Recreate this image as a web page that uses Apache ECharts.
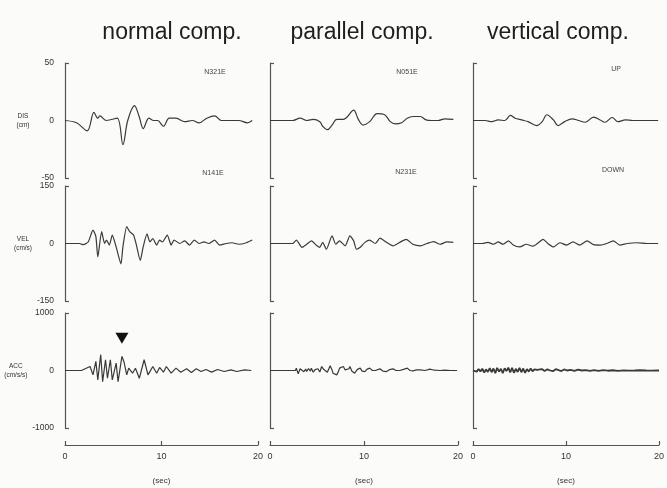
<!DOCTYPE html>
<html>
<head>
<meta charset="utf-8">
<script src="https://cdn.jsdelivr.net/npm/echarts@6/dist/echarts.min.js"></script>
<style>
  html, body { margin: 0; padding: 0; background: #fbfbfa; }
  #chart { width: 667px; height: 488px; }
</style>
</head>
<body>
<div id="chart"></div>
<script>
// labels
const columnTitles = ["normal comp.", "parallel comp.", "vertical comp."];
const rowNames = ["DIS\n(cm)", "VEL\n(cm/s)", "ACC\n(cm/s/s)"];
const rowLimits = [50, 150, 1000];
const upLabels = ["N321E", "N051E", "UP"];
const downLabels = ["N141E", "N231E", "DOWN"];
const timeTicks = [0, 10, 20];

// traces, [sec, value]
const disNormal = [[0,0],[1.2,-2],[2.3,-9],[3.0,7],[3.4,2],[3.6,4],[4.3,0],[5.4,2],[6.0,-21],[6.5,0],[7.2,13],[7.7,3],[8.1,-7],[8.7,2],[9.2,0],[9.6,0],[10.2,-5],[10.8,2],[11.5,2],[12.4,-1],[13.2,0],[13.9,-2],[14.7,2],[15.5,4],[16.2,0],[17.0,0],[18.0,0],[18.9,-2],[19.4,0]];
const disParallel = [[0,0],[2.4,0],[3.2,2],[3.9,0],[4.6,1],[5.3,-1],[5.6,-5],[6.1,-8],[6.6,-4],[7.1,1],[7.8,1],[8.2,3],[8.9,9],[9.4,1],[9.9,-4],[10.6,-1],[11.4,6],[12.2,5],[12.8,-1],[13.3,-3],[14.0,-2],[14.6,2],[15.2,3.5],[16.0,3.5],[16.6,0.5],[17.2,0],[17.9,0],[18.6,1.5],[19.5,1]];
const disVertical = [[0,0],[1.3,0],[2.0,-1],[2.7,0.5],[3.4,0],[4.0,4.4],[4.5,2],[5.2,0.5],[5.9,-1],[6.8,-4.4],[7.4,-1],[7.9,5],[8.6,0.5],[9.1,-4.4],[9.8,-1],[10.6,1.5],[11.3,0],[12.0,-1.5],[12.9,3],[13.6,0.5],[14.1,-1.5],[14.9,2.6],[15.5,-1],[16.3,0.5],[17.1,0],[18.6,0],[19.8,0]];

const velNormal = [[0,0],[1.5,0],[1.9,-3],[2.4,4],[2.9,35],[3.2,18],[3.4,-35],[3.8,31],[4.1,0],[4.3,9],[4.6,-4],[4.9,22],[5.3,-9],[5.8,-53],[6.0,-9],[6.4,44],[6.7,31],[7.1,22],[7.4,-4],[7.8,-44],[8.1,-9],[8.5,25],[8.8,4],[9.1,13],[9.5,-4],[9.8,9],[10.1,4],[10.6,22],[11.0,-4],[11.3,9],[11.9,0],[12.4,7],[12.9,-4],[13.4,9],[13.9,0],[14.4,4],[14.9,0],[15.5,9],[16.0,-4],[16.7,0],[17.3,2],[18.0,-2],[18.8,2],[19.4,9]];
const velParallel = [[0,0],[2.4,0],[2.8,9],[3.4,-10],[3.9,-2],[4.4,7],[5.0,-6],[5.3,-10],[5.6,3],[6.0,-15],[6.6,20],[7.0,-2],[7.4,7],[8.0,-6],[8.5,20],[8.9,7],[9.2,-15],[9.6,-10],[10.1,3],[10.6,9],[11.2,0],[11.7,14],[12.4,3],[13.1,-6],[13.8,3],[14.5,11],[15.2,-2],[16.0,-6],[16.7,0],[17.4,5],[18.1,-2],[18.8,4],[19.5,3]];
const velVertical = [[0,0],[1.0,0],[1.6,3],[2.2,-2],[2.7,4],[3.2,-2],[3.8,7],[4.3,-4],[5.0,-9],[5.7,-2],[6.4,-7],[7.0,2],[7.5,11],[8.0,0],[8.6,-9],[9.3,2],[10.0,-4],[10.7,4],[11.4,-4],[12.2,7],[12.9,-3],[13.6,-4],[14.3,0],[15.0,7],[15.7,-4],[16.5,0],[17.5,2],[18.6,0],[19.8,0]];

const accNormal = [[0,0],[1.7,0],[2.2,40],[2.6,70],[2.9,-76],[3.2,158],[3.4,-164],[3.7,275],[3.9,-193],[4.2,187],[4.4,-135],[4.7,187],[4.9,-164],[5.3,129],[5.5,-193],[5.9,246],[6.1,158],[6.4,-76],[6.6,40],[7.0,-47],[7.3,40],[7.7,-135],[8.2,187],[8.6,-76],[9.1,70],[9.5,-47],[9.8,53],[10.2,-29],[10.5,70],[11.0,-47],[11.5,41],[12.0,-29],[12.6,29],[13.1,-35],[13.6,29],[14.1,-18],[14.6,18],[15.2,-29],[15.8,18],[16.5,-18],[17.2,12],[17.8,-18],[18.6,12],[19.3,0]];
const accParallel = [[0,0],[2.7,0],[2.8,40],[3.0,-58],[3.2,30],[3.4,41],[3.6,-20],[3.8,25],[3.9,-18],[4.1,35],[4.3,-10],[4.4,41],[4.6,-30],[4.8,15],[4.9,-18],[5.1,30],[5.3,-25],[5.5,70],[5.7,20],[5.9,12],[6.1,-30],[6.4,82],[6.6,10],[6.7,-47],[6.9,-20],[7.1,-76],[7.3,-10],[7.4,41],[7.6,60],[7.8,70],[8.0,10],[8.2,-18],[8.4,30],[8.5,70],[8.7,-10],[9.0,-47],[9.3,20],[9.6,41],[9.8,-10],[10.1,-18],[10.3,20],[10.6,41],[10.9,0],[11.2,0],[11.4,25],[11.7,29],[12.0,-10],[12.4,-18],[12.7,15],[13.1,29],[13.4,0],[13.8,0],[14.2,20],[14.6,41],[14.9,0],[15.2,-6],[15.6,10],[16.0,12],[16.5,0],[17.0,23],[17.5,5],[18.1,0],[18.6,5],[19.2,0],[19.9,0]];
const accVertical = [[0,0],[0.2,10],[0.4,-20],[0.6,25],[0.8,-15],[1.0,30],[1.2,-35],[1.4,20],[1.6,-25],[1.8,40],[2.0,-30],[2.2,35],[2.4,-45],[2.6,47],[2.8,-20],[3.0,30],[3.2,-47],[3.4,40],[3.6,-10],[3.8,50],[4.0,-35],[4.2,45],[4.4,-40],[4.6,30],[4.8,-25],[5.0,47],[5.2,-30],[5.4,35],[5.6,-40],[5.8,25],[6.0,-20],[6.2,35],[6.4,-15],[6.6,20],[6.9,10],[7.1,-15],[7.4,25],[7.7,-10],[8.0,20],[8.3,0],[8.6,-12],[8.9,23],[9.2,5],[9.5,-10],[9.8,18],[10.1,0],[10.5,12],[10.9,-5],[11.3,15],[11.7,0],[12.1,8],[12.6,-6],[13.0,6],[13.5,-6],[14.0,5],[14.5,-4],[15.0,4],[15.6,-6],[16.2,3],[16.8,-3],[17.4,0],[18.0,4],[18.6,0],[19.2,-3],[20.0,0]];

// black arrow over the ACC normal trace
const arrowMark = [5.9, 560];

const traces = [
  [disNormal, disParallel, disVertical],
  [velNormal, velParallel, velVertical],
  [accNormal, accParallel, accVertical]
];

const colLeft = [65, 270, 473];
const colWidth = [193, 188, 187];
const rowTop = [63, 186, 313];
const rowHeight = 115;
const ink = "#3a3a3a";
const axisInk = "#555";

const chart = echarts.init(document.getElementById("chart"), null, { renderer: "canvas" });

const grid = [], xAxis = [], yAxis = [], series = [];
for (let r = 0; r < 3; r++) {
  for (let c = 0; c < 3; c++) {
    const i = grid.length;
    const lim = rowLimits[r];
    const bottomRow = r === 2;
    grid.push({ left: colLeft[c], top: rowTop[r], width: colWidth[c], height: rowHeight });
    xAxis.push({
      gridIndex: i, type: "value", min: timeTicks[0], max: timeTicks[2], interval: timeTicks[1] - timeTicks[0],
      show: bottomRow, offset: 17,
      axisLine: { show: true, onZero: false, lineStyle: { color: axisInk, width: 1.2 } },
      axisTick: { show: true, inside: true, length: 4, lineStyle: { color: axisInk, width: 1.2 } },
      axisLabel: { fontSize: 9, color: "#333", margin: 7, fontFamily: "Liberation Sans" },
      splitLine: { show: false },
      name: "(sec)", nameLocation: "middle", nameGap: 32,
      nameTextStyle: { fontSize: 8, color: "#333", fontFamily: "Liberation Sans" }
    });
    yAxis.push({
      gridIndex: i, type: "value", min: -lim, max: lim,
      axisLine: { show: true, onZero: false, lineStyle: { color: axisInk, width: 1.2 } },
      axisTick: { show: true, inside: true, length: 4, customValues: [-lim, lim], lineStyle: { color: axisInk, width: 1.2 } },
      axisLabel: { show: c === 0, customValues: [-lim, 0, lim], formatter: v => String(v), fontSize: 8.5, color: "#333", margin: 11, fontFamily: "Liberation Sans" },
      splitLine: { show: false },
      name: c === 0 ? rowNames[r] : "", nameLocation: "middle", nameRotate: 0, nameGap: 42,
      nameTextStyle: { fontSize: 6.5, color: "#333", align: "center", verticalAlign: "middle", lineHeight: 9, fontFamily: "Liberation Sans" }
    });
    const s = {
      type: "line", xAxisIndex: i, yAxisIndex: i, data: traces[r][c],
      showSymbol: false, silent: true,
      smooth: r === 2 ? false : (r === 0 ? 0.35 : 0.2),
      lineStyle: { color: ink, width: r === 2 && c === 2 ? 1.8 : 1.2 }
    };
    if (r === 2 && c === 0) {
      s.markPoint = {
        silent: true, symbol: "triangle", symbolRotate: 180, symbolSize: [13, 11],
        itemStyle: { color: "#111" }, label: { show: false },
        data: [{ coord: arrowMark }]
      };
    }
    series.push(s);
  }
}

const titleX = [172, 362, 558];
const upPos = [[215, 72], [407, 72], [616, 69]];
const downPos = [[213, 173], [406, 172], [613, 170]];
const graphic = [];
for (let c = 0; c < 3; c++) {
  graphic.push({ type: "text", x: titleX[c], y: 33, style: { text: columnTitles[c], fontSize: 23, fill: "#1e1e1e", fontFamily: "Liberation Sans", align: "center", verticalAlign: "middle" } });
  graphic.push({ type: "text", x: upPos[c][0], y: upPos[c][1], style: { text: upLabels[c], fontSize: 7, fill: "#444", fontFamily: "Liberation Sans", align: "center", verticalAlign: "middle" } });
  graphic.push({ type: "text", x: downPos[c][0], y: downPos[c][1], style: { text: downLabels[c], fontSize: 7, fill: "#444", fontFamily: "Liberation Sans", align: "center", verticalAlign: "middle" } });
}

chart.setOption({
  backgroundColor: "#fbfbfa",
  animation: false,
  grid, xAxis, yAxis, series, graphic
});

window.addEventListener("resize", () => chart.resize());
</script>
</body>
</html>
